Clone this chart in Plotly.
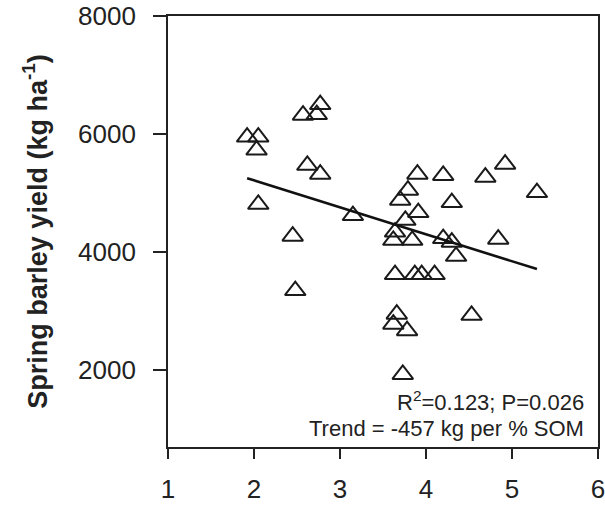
import plotly.graph_objects as go

# Soil organic matter (%) and spring barley yield (kg/ha)
som = [1.92, 2.05, 2.03, 2.57, 2.77, 2.73, 2.62, 2.77, 2.05, 2.45, 2.48,
       3.15, 3.90, 4.20, 4.30, 3.79, 3.70, 3.91, 3.76, 3.64, 3.62, 3.84,
       4.20, 4.30, 4.35, 4.84, 3.64, 3.87, 3.95, 4.10, 3.66, 3.62, 3.78,
       4.53, 3.73, 4.92, 4.69, 5.29]
yield_kg = [5950, 5950, 5730, 6320, 6500, 6330, 5470, 5320, 4810, 4270, 3350,
            4620, 5320, 5300, 4840, 5050, 4880, 4670, 4540, 4340, 4200, 4200,
            4230, 4170, 3930, 4220, 3620, 3620, 3620, 3620, 2950, 2780, 2670,
            2930, 1930, 5490, 5270, 5010]

# Trend line parameters
trend_intercept = 6131
trend_slope = -457
trend_x = [1.92, 5.29]
trend_y = [trend_intercept + trend_slope * v for v in trend_x]

x_ticks = [1, 2, 3, 4, 5, 6]
y_ticks = [2000, 4000, 6000, 8000]

FONT = "Liberation Sans, Arial, sans-serif"

fig = go.Figure()
fig.add_trace(go.Scatter(
    x=som, y=yield_kg, mode="markers",
    marker=dict(symbol="triangle-up-open", size=18, color="#1a1a1a",
                line=dict(width=2, color="#1a1a1a")),
    showlegend=False, cliponaxis=False))
fig.add_trace(go.Scatter(
    x=trend_x, y=trend_y, mode="lines",
    line=dict(color="#111111", width=2.6), showlegend=False))

fig.add_annotation(x=1, xref="paper", y=0.107, yref="paper",
                   text="R<sup>2</sup>=0.123; P=0.026", showarrow=False,
                   xanchor="right", yanchor="middle",
                   font=dict(family=FONT, size=22, color="#222"), xshift=-12)
fig.add_annotation(x=1, xref="paper", y=0.043, yref="paper",
                   text="Trend = -457 kg per % SOM", showarrow=False,
                   xanchor="right", yanchor="middle",
                   font=dict(family=FONT, size=22, color="#222"), xshift=-12)

fig.update_layout(
    width=605, height=505,
    margin=dict(l=168, r=7, t=16, b=58),
    paper_bgcolor="white", plot_bgcolor="white",
    font=dict(family=FONT, color="#222"),
)
fig.update_xaxes(range=[1, 6], tickvals=x_ticks, ticks="outside", ticklen=10,
                 tickwidth=1.5, tickcolor="#222", showline=True, linecolor="#222",
                 linewidth=1.8, mirror=True, showgrid=False, zeroline=False,
                 automargin=False, ticklabelstandoff=8, ticklabeloverflow="allow",
                 tickfont=dict(family=FONT, size=26, color="#222"))
fig.update_yaxes(range=[700, 8000], tickvals=y_ticks, ticks="outside", ticklen=13,
                 tickwidth=1.5, tickcolor="#222", showline=True, linecolor="#222",
                 linewidth=1.8, mirror=True, showgrid=False, zeroline=False,
                 automargin=False, ticklabelstandoff=12,
                 tickfont=dict(family=FONT, size=26, color="#222"),
                 title=dict(text="<b>Spring barley yield (kg ha<sup>-1</sup>)</b>",
                            font=dict(family=FONT, size=27, color="#222"),
                            standoff=23))

fig.write_html("out.html")
